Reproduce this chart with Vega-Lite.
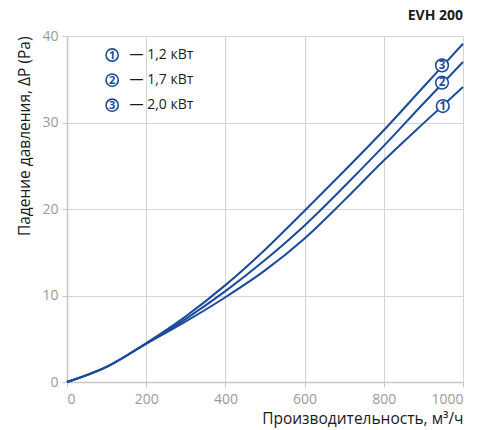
{
  "$schema": "https://vega.github.io/schema/vega-lite/v6.json",
  "width": 396,
  "height": 346,
  "autosize": {"type": "none"},
  "padding": {"left": 67, "top": 36, "right": 32, "bottom": 48},
  "background": "white",
  "config": {
    "font": "Open Sans",
    "view": {"stroke": null},
    "axis": {
      "gridColor": "#d4d4d4",
      "gridWidth": 1,
      "domainColor": "#c8c8c8",
      "domainWidth": 1.5,
      "tickColor": "#c8c8c8",
      "tickSize": 5,
      "labelColor": "#9a9a9a",
      "labelFontSize": 14,
      "titleColor": "#1a1a1a",
      "titleFontSize": 15.5,
      "titleFontWeight": "normal"
    }
  },
  "title": {
    "text": "EVH 200",
    "anchor": "end",
    "frame": "group",
    "fontSize": 14,
    "fontWeight": "bold",
    "color": "#1a1a1a",
    "offset": 6
  },
  "datasets": {
    "curves": [
      {"q": 0, "dp": 0, "s": "1"}, {"q": 100, "dp": 1.75, "s": "1"}, {"q": 200, "dp": 4.4, "s": "1"},
      {"q": 300, "dp": 7.0, "s": "1"}, {"q": 400, "dp": 9.8, "s": "1"}, {"q": 500, "dp": 12.9, "s": "1"},
      {"q": 600, "dp": 16.6, "s": "1"}, {"q": 700, "dp": 21.0, "s": "1"}, {"q": 800, "dp": 25.6, "s": "1"},
      {"q": 900, "dp": 29.9, "s": "1"}, {"q": 1000, "dp": 34.1, "s": "1"},
      {"q": 0, "dp": 0, "s": "2"}, {"q": 100, "dp": 1.75, "s": "2"}, {"q": 200, "dp": 4.45, "s": "2"},
      {"q": 300, "dp": 7.3, "s": "2"}, {"q": 400, "dp": 10.5, "s": "2"}, {"q": 500, "dp": 14.1, "s": "2"},
      {"q": 600, "dp": 18.1, "s": "2"}, {"q": 700, "dp": 22.6, "s": "2"}, {"q": 800, "dp": 27.3, "s": "2"},
      {"q": 900, "dp": 32.2, "s": "2"}, {"q": 1000, "dp": 37.0, "s": "2"},
      {"q": 0, "dp": 0, "s": "3"}, {"q": 100, "dp": 1.75, "s": "3"}, {"q": 200, "dp": 4.5, "s": "3"},
      {"q": 300, "dp": 7.6, "s": "3"}, {"q": 400, "dp": 11.2, "s": "3"}, {"q": 500, "dp": 15.3, "s": "3"},
      {"q": 600, "dp": 19.8, "s": "3"}, {"q": 700, "dp": 24.4, "s": "3"}, {"q": 800, "dp": 29.1, "s": "3"},
      {"q": 900, "dp": 34.1, "s": "3"}, {"q": 1000, "dp": 39.1, "s": "3"}
    ],
    "labels": [
      {"q": 949, "dp": 31.9, "n": "1"},
      {"q": 947, "dp": 34.6, "n": "2"},
      {"q": 947, "dp": 36.6, "n": "3"}
    ],
    "legend": [
      {"q": 114, "dp": 37.8, "tq": 158, "n": "1", "t": "— 1,2 кВт"},
      {"q": 114, "dp": 34.9, "tq": 158, "n": "2", "t": "— 1,7 кВт"},
      {"q": 114, "dp": 32.0, "tq": 158, "n": "3", "t": "— 2,0 кВт"}
    ]
  },
  "layer": [
    {
      "data": {"name": "curves"},
      "mark": {"type": "line", "interpolate": "monotone", "color": "#1b4a9a", "strokeWidth": 2},
      "encoding": {
        "x": {
          "field": "q", "type": "quantitative",
          "scale": {"domain": [0, 1000], "nice": false},
          "axis": {"values": [0, 200, 400, 600, 800, 1000], "format": "d", "title": "Производительность, м³/ч", "titleAnchor": "end", "labelPadding": 5, "titlePadding": 5}
        },
        "y": {
          "field": "dp", "type": "quantitative",
          "scale": {"domain": [0, 40], "nice": false},
          "axis": {"values": [0, 10, 20, 30, 40], "title": "Падение давления, ΔP (Pa)", "titleAnchor": "end", "labelPadding": 4, "titlePadding": 9}
        },
        "detail": {"field": "s"}
      }
    },
    {
      "data": {"name": "labels"},
      "mark": {"type": "point", "shape": "circle", "filled": true, "fill": "white", "stroke": "#1b4a9a", "strokeWidth": 1.6, "size": 160, "opacity": 1},
      "encoding": {
        "x": {"field": "q", "type": "quantitative"},
        "y": {"field": "dp", "type": "quantitative"}
      }
    },
    {
      "data": {"name": "labels"},
      "mark": {"type": "text", "color": "#1b4a9a", "fontSize": 11.5, "fontWeight": "bold", "baseline": "middle", "align": "center", "dy": 0.5},
      "encoding": {
        "x": {"field": "q", "type": "quantitative"},
        "y": {"field": "dp", "type": "quantitative"},
        "text": {"field": "n"}
      }
    },
    {
      "data": {"name": "legend"},
      "mark": {"type": "point", "shape": "circle", "filled": true, "fill": "white", "stroke": "#1b4a9a", "strokeWidth": 1.6, "size": 150, "opacity": 1},
      "encoding": {
        "x": {"field": "q", "type": "quantitative"},
        "y": {"field": "dp", "type": "quantitative"}
      }
    },
    {
      "data": {"name": "legend"},
      "mark": {"type": "text", "color": "#1b4a9a", "fontSize": 11, "fontWeight": "bold", "baseline": "middle", "align": "center", "dy": 0.5},
      "encoding": {
        "x": {"field": "q", "type": "quantitative"},
        "y": {"field": "dp", "type": "quantitative"},
        "text": {"field": "n"}
      }
    },
    {
      "data": {"name": "legend"},
      "mark": {"type": "text", "color": "#1a1a1a", "fontSize": 14, "baseline": "middle", "align": "left"},
      "encoding": {
        "x": {"field": "tq", "type": "quantitative"},
        "y": {"field": "dp", "type": "quantitative"},
        "text": {"field": "t"}
      }
    }
  ]
}
